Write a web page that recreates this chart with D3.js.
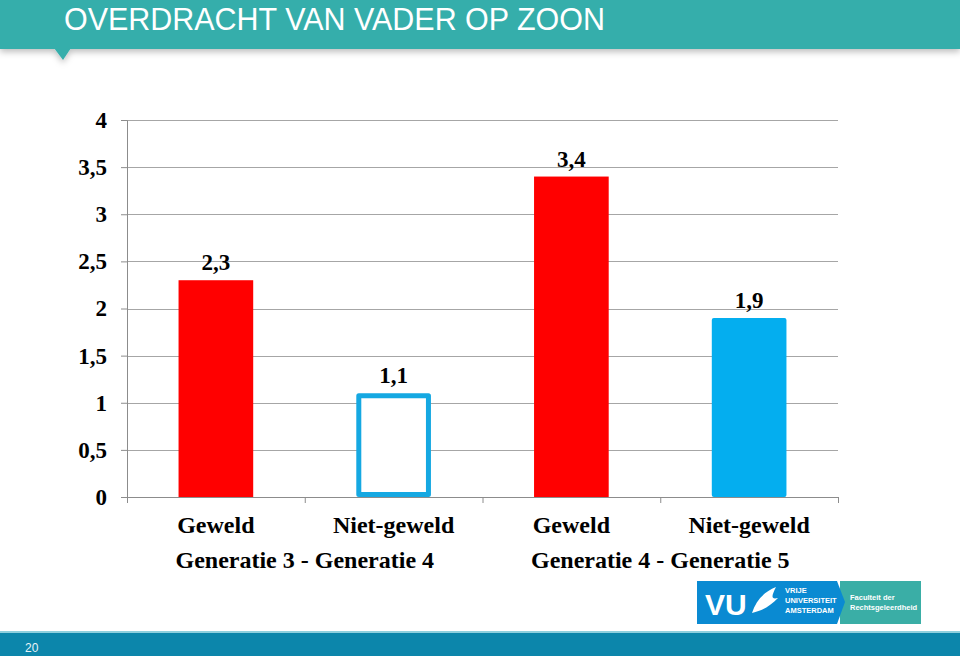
<!DOCTYPE html>
<html>
<head>
<meta charset="utf-8">
<script src="https://cdn.jsdelivr.net/npm/d3@7"></script>
<style>
body{margin:0;background:#fff;}
svg{display:block;}
</style>
</head>
<body>
<svg></svg>
<script>
var categories = ["Geweld", "Niet-geweld", "Geweld", "Niet-geweld"]
var values = [2.3, 1.1, 3.4, 1.9]
var valueLabels = ["2,3", "1,1", "3,4", "1,9"]
var groups = ["Generatie 3 - Generatie 4", "Generatie 4 - Generatie 5"]
var yTicks = [0, 0.5, 1, 1.5, 2, 2.5, 3, 3.5, 4]
var yTickLabels = ["0", "0,5", "1", "1,5", "2", "2,5", "3", "3,5", "4"]
var barStyle = ["fill", "outline", "fill", "fill"]
var barColors = ["#ff0000", "#15a8e2", "#ff0000", "#04aeef"]

var serif = "Liberation Serif, Times New Roman, serif"
var sans = "Liberation Sans, Arial, sans-serif"

var drawHeader = function(svg)
{
    var defs = svg.append("defs")
    var f = defs.append("filter").attr("id","shadow")
        .attr("x","-5%").attr("y","-20%").attr("width","110%").attr("height","160%")
    f.append("feDropShadow").attr("dx",0).attr("dy",3).attr("stdDeviation",3)
        .attr("flood-color","#000").attr("flood-opacity",0.25)

    var g = svg.append("g").attr("filter","url(#shadow)")
    g.append("rect").attr("x",0).attr("y",0).attr("width",960).attr("height",49)
        .attr("fill","#35aeab")
    g.append("path").attr("d","M54,48 L71,48 L63,60 Z").attr("fill","#35aeab")

    svg.append("text")
        .text("OVERDRACHT VAN VADER OP ZOON")
        .attr("x",64).attr("y",30)
        .attr("fill","#fff")
        .attr("font-family",sans)
        .attr("font-size","32px")
        .attr("textLength",541)
        .attr("lengthAdjust","spacingAndGlyphs")
}

var drawFooter = function(svg)
{
    svg.append("rect").attr("x",0).attr("y",631).attr("width",960).attr("height",2)
        .attr("fill","#8fd0de")
    svg.append("rect").attr("x",0).attr("y",633).attr("width",960).attr("height",23)
        .attr("fill","#0c86ab")
    svg.append("text").text("20")
        .attr("x",25).attr("y",652)
        .attr("fill","#e8f4f8")
        .attr("font-family",sans)
        .attr("font-size","12px")

    // logo
    var logo = svg.append("g")
    logo.append("rect").attr("x",697).attr("y",581).attr("width",140).attr("height",43)
        .attr("fill","#0a8ad2")
    logo.append("rect").attr("x",840).attr("y",581).attr("width",81).attr("height",43)
        .attr("fill","#3aaea6")
    logo.append("path").attr("d","M837,581 L845,602 L837,624 Z").attr("fill","#0a8ad2")
    logo.append("text").text("VU")
        .attr("x",705).attr("y",615)
        .attr("fill","#fff")
        .attr("font-family",sans)
        .attr("font-weight","bold")
        .attr("font-size","30px")
    logo.append("path")
        .attr("d","M752,613 C756,600 764,592 776,587 C772,595 770,600 778,598 C770,606 764,610 752,613 Z")
        .attr("fill","#fff")
    var small = ["VRIJE","UNIVERSITEIT","AMSTERDAM"]
    logo.selectAll(".vu").data(small).enter().append("text")
        .text(function(d){ return d })
        .attr("x",785)
        .attr("y",function(d,i){ return 593+i*10 })
        .attr("fill","#fff")
        .attr("font-family",sans)
        .attr("font-weight","bold")
        .attr("font-size","7.5px")
    var fac = ["Faculteit der","Rechtsgeleerdheid"]
    logo.selectAll(".fac").data(fac).enter().append("text")
        .text(function(d){ return d })
        .attr("x",850)
        .attr("y",function(d,i){ return 600+i*10 })
        .attr("fill","#fff")
        .attr("font-family",sans)
        .attr("font-weight","bold")
        .attr("font-size","7.5px")
}

var drawChart = function(svg)
{
    var margins = {left:127, top:120}
    var graph = {width:711, height:377}

    var target = svg.append("g")
        .attr("id","graph")
        .attr("transform","translate("+margins.left+","+margins.top+")")

    var xScale = d3.scaleBand()
        .domain(d3.range(categories.length))
        .range([0, graph.width])
        .paddingInner(0.58)
        .paddingOuter(0.29)

    var yScale = d3.scaleLinear()
        .domain([0,4])
        .range([graph.height,0])

    // gridlines
    target.append("g").selectAll("line")
        .data(yTicks.slice(1))
        .enter().append("line")
        .attr("x1",0).attr("x2",graph.width)
        .attr("y1",function(d){ return Math.round(yScale(d))+0.5 })
        .attr("y2",function(d){ return Math.round(yScale(d))+0.5 })
        .attr("stroke","#a6a6a6")
        .attr("stroke-width",1)

    // y axis
    var yAxis = d3.axisLeft(yScale)
        .tickValues(yTicks)
        .tickSize(6)
        .tickPadding(14)
        .tickFormat(function(d,i){ return yTickLabels[i] })
    var ya = target.append("g").call(yAxis)
    ya.selectAll("path,line").attr("stroke","#8c8c8c")
    ya.selectAll("text")
        .attr("font-family",serif)
        .attr("font-weight","bold")
        .attr("font-size","23px")
        .attr("fill","#000")

    // x axis (band boundaries)
    var xEdge = d3.scaleLinear().domain([0,categories.length]).range([0,graph.width])
    var xAxis = d3.axisBottom(xEdge)
        .tickValues(d3.range(categories.length+1))
        .tickSize(6)
        .tickFormat("")
    var xa = target.append("g")
        .attr("transform","translate(0,"+graph.height+")")
        .call(xAxis)
    xa.selectAll("path,line").attr("stroke","#8c8c8c")

    // bars
    target.append("g").selectAll("rect")
        .data(values)
        .enter().append("rect")
        .attr("x", function(d,i){
            return barStyle[i]=="outline" ? xScale(i)+2.5 : xScale(i)
        })
        .attr("y", function(d,i){
            return barStyle[i]=="outline" ? yScale(d)+2.5 : yScale(d)
        })
        .attr("width", function(d,i){
            return barStyle[i]=="outline" ? xScale.bandwidth()-5 : xScale.bandwidth()
        })
        .attr("height", function(d,i){
            return barStyle[i]=="outline" ? graph.height-yScale(d)-5 : graph.height-yScale(d)
        })
        .attr("rx", function(d,i){ return i==3 ? 2 : 0 })
        .attr("fill", function(d,i){ return barStyle[i]=="outline" ? "#fff" : barColors[i] })
        .attr("stroke", function(d,i){ return barStyle[i]=="outline" ? barColors[i] : "none" })
        .attr("stroke-width",5)
        .attr("stroke-linejoin","round")

    // value labels
    target.append("g").selectAll("text")
        .data(values)
        .enter().append("text")
        .text(function(d,i){ return valueLabels[i] })
        .attr("x", function(d,i){ return xScale(i)+xScale.bandwidth()/2 })
        .attr("y", function(d){ return yScale(d)-10 })
        .attr("text-anchor","middle")
        .attr("font-family",serif)
        .attr("font-weight","bold")
        .attr("font-size","23px")

    // category labels
    target.append("g").selectAll("text")
        .data(categories)
        .enter().append("text")
        .text(function(d){ return d })
        .attr("x", function(d,i){ return xEdge(i+0.5) })
        .attr("y", graph.height+36)
        .attr("text-anchor","middle")
        .attr("font-family",serif)
        .attr("font-weight","bold")
        .attr("font-size","24px")

    // group labels
    target.append("g").selectAll("text")
        .data(groups)
        .enter().append("text")
        .text(function(d){ return d })
        .attr("x", function(d,i){ return xEdge(i*2+1) })
        .attr("y", graph.height+71)
        .attr("text-anchor","middle")
        .attr("font-family",serif)
        .attr("font-weight","bold")
        .attr("font-size","24px")
}

var svg = d3.select("svg").attr("width",960).attr("height",656)
drawHeader(svg)
drawChart(svg)
drawFooter(svg)
</script>
</body>
</html>
